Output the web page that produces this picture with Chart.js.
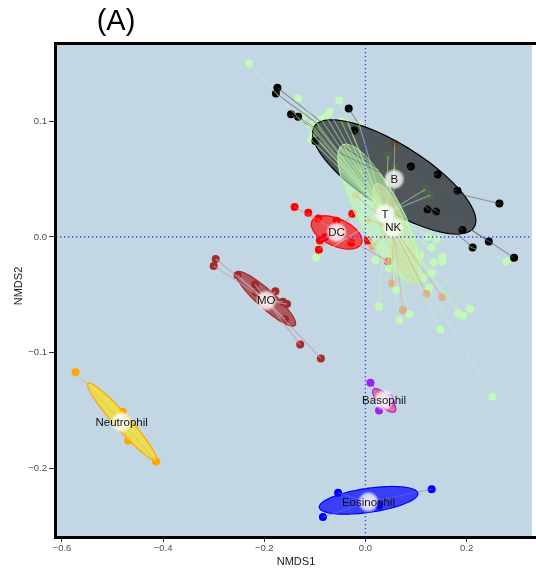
<!DOCTYPE html>
<html>
<head>
<meta charset="utf-8">
<script src="https://cdn.jsdelivr.net/npm/chart.js@4.4.1/dist/chart.umd.min.js"></script>
<style>
  html, body { margin: 0; padding: 0; background: #fff; }
  canvas { display: block; }
</style>
</head>
<body>
<canvas id="nmds" width="536" height="571"></canvas>
<script>
// groups, in the order they are drawn (alphabetical, like the R factor levels)
const groupNames = ['B', 'Basophil', 'DC', 'Eosinophil', 'MO', 'Neutrophil', 'NK', 'T'];

// NMDS1 / NMDS2 scores, one list of [x, y] per group
const ptsB = [[-0.174, 0.129], [-0.177, 0.124], [-0.147, 0.106], [-0.133, 0.104], [-0.033, 0.111],
  [-0.099, 0.083], [-0.022, 0.092], [0.090, 0.061], [0.143, 0.054], [0.182, 0.040], [0.265, 0.029],
  [0.123, 0.024], [0.140, 0.022], [0.192, 0.006], [0.244, -0.004], [0.212, -0.009], [0.294, -0.018]];
const ptsBasophil = [[0.010, -0.126], [0.027, -0.150], [0.051, -0.144], [0.047, -0.139]];
const ptsDC = [[-0.140, 0.026], [-0.113, 0.021], [-0.093, 0.016], [-0.057, 0.014], [-0.026, 0.020],
  [0.005, -0.003], [-0.090, -0.003], [-0.079, 0.000], [-0.092, -0.011], [-0.028, -0.005], [0.045, -0.021]];
const ptsEosinophil = [[-0.054, -0.221], [-0.084, -0.242], [0.027, -0.232], [0.131, -0.218]];
const ptsMO = [[-0.296, -0.019], [-0.300, -0.025], [-0.253, -0.033], [-0.218, -0.041], [-0.216, -0.048],
  [-0.178, -0.047], [-0.163, -0.056], [-0.155, -0.058], [-0.159, -0.071], [-0.129, -0.093], [-0.088, -0.105]];
const ptsNeutrophil = [[-0.573, -0.117], [-0.480, -0.151], [-0.469, -0.176], [-0.414, -0.194]];
const ptsNK = [[0.058, 0.081], [-0.019, 0.036], [0.005, 0.015], [0.014, -0.008], [0.053, -0.040],
  [0.120, -0.049], [0.152, -0.052], [0.074, -0.063]];
const ptsT = [[-0.230, 0.150], [-0.133, 0.120], [-0.052, 0.118], [-0.071, 0.108], [-0.078, 0.104],
  [-0.088, 0.102], [-0.124, 0.103], [-0.048, 0.100], [-0.035, 0.098], [-0.012, 0.097], [-0.107, 0.097],
  [-0.104, 0.088], [-0.107, 0.084], [-0.094, 0.095], [0.045, 0.070], [0.058, 0.061], [-0.012, 0.059],
  [0.118, 0.041], [0.128, 0.036], [-0.098, -0.018], [0.020, -0.020], [0.047, -0.027], [0.027, -0.060],
  [0.061, -0.046], [0.067, -0.072], [0.087, -0.067], [0.148, -0.080], [0.183, -0.066], [0.193, -0.068],
  [0.207, -0.062], [0.279, -0.021], [0.251, -0.138], [0.126, -0.044], [0.115, -0.035], [0.131, -0.031],
  [0.135, -0.022], [0.152, -0.021], [0.152, -0.017], [0.131, -0.009], [0.141, -0.002], [0.123, 0.000],
  [0.108, -0.016]];
const groupPoints = [ptsB, ptsBasophil, ptsDC, ptsEosinophil, ptsMO, ptsNeutrophil, ptsNK, ptsT];

// group centres (spider hubs / label spots)
const centerX = [0.057, 0.037, -0.057, 0.006, -0.196, -0.482, 0.055, 0.039];
const centerY = [0.050, -0.141, 0.004, -0.229, -0.055, -0.160, 0.008, 0.020];

// ordiellipse: centre x, centre y, then two conjugate semi-axes (dx, dy), NMDS units
const ellB = [0.0569, 0.0519, 0.1580, -0.0435, 0.0333, 0.0234];
const ellBasophil = [0.0373, -0.1413, 0.0215, -0.0095, 0.0082, 0.0037];
const ellDC = [-0.0569, 0.0039, 0.0490, -0.0095, 0.0106, 0.0108];
const ellEosinophil = [0.0063, -0.2276, 0.0975, 0.0061, 0.0033, -0.0103];
const ellMO = [-0.1971, -0.0534, 0.0580, -0.0229, 0.0115, 0.0058];
const ellNeutrophil = [-0.4814, -0.1596, 0.0671, -0.0331, 0.0110, 0.0044];
const ellNK = [0.0600, 0.0030, 0.0380, -0.0430, 0.0230, 0.0040];
const ellT = [0.0284, 0.0199, 0.0735, -0.0596, 0.0380, 0.0092];
const groupEllipses = [ellB, ellBasophil, ellDC, ellEosinophil, ellMO, ellNeutrophil, ellNK, ellT];

const xTicks = [-0.6, -0.4, -0.2, 0.0, 0.2];
const yTicks = [0.1, 0.0, -0.1, -0.2];
const xMin = -0.6118, xMax = 0.3294;
const yMin = -0.2593, yMax = 0.1668;

// styles
const pointColors = ['#000000', '#a020f0', '#ff0000', '#0000ff', '#a52a2a', '#ffa500', '#dfaf87', '#c3fab9'];
const ellFill = ['rgba(0,0,0,0.6)', 'rgba(240,70,110,0.7)', 'rgba(255,0,0,0.65)', 'rgba(0,0,255,0.7)',
  'rgba(160,35,40,0.7)', 'rgba(245,225,30,0.75)', 'rgba(222,170,125,0.65)', 'rgba(195,255,180,0.6)'];
const ellLine = ['#000000', '#a020f0', '#ff0000', '#0000ff', '#a52a2a', '#ffa500',
  'rgba(222,175,135,0.8)', 'rgba(175,240,165,0.95)'];
const spiderColor = ['rgba(90,90,90,0.55)', 'rgba(160,32,240,0.4)', 'rgba(255,100,110,0.5)',
  'rgba(90,120,255,0.5)', 'rgba(190,160,170,0.8)', 'rgba(230,190,120,0.7)',
  'rgba(222,175,135,0.6)', 'rgba(195,250,185,0.5)'];
const FONT = '"Liberation Sans", Arial, Helvetica, sans-serif';

function fmt(v) {
  return (v < 0 ? '\u2212' : '') + Math.abs(v).toFixed(1);
}

const overlay = {
  id: 'overlay',
  beforeDraw(chart) {
    const { ctx, chartArea: a } = chart;
    ctx.save();
    ctx.fillStyle = '#c2d6e3';
    ctx.fillRect(a.left, a.top, a.right - a.left, a.bottom - a.top);
    ctx.restore();
  },
  afterDatasetsDraw(chart) {
    const { ctx, chartArea: a } = chart;
    const sx = chart.scales.x, sy = chart.scales.y;
    ctx.save();
    ctx.beginPath();
    ctx.rect(a.left, a.top, a.right - a.left, a.bottom - a.top);
    ctx.clip();

    // ellipses
    groupEllipses.forEach((e, i) => {
      const cx = sx.getPixelForValue(e[0]), cy = sy.getPixelForValue(e[1]);
      const ux = sx.getPixelForValue(e[0] + e[2]) - cx, uy = sy.getPixelForValue(e[1] + e[3]) - cy;
      const vx = sx.getPixelForValue(e[0] + e[4]) - cx, vy = sy.getPixelForValue(e[1] + e[5]) - cy;
      ctx.beginPath();
      for (let k = 0; k <= 90; k++) {
        const t = k / 90 * Math.PI * 2;
        const X = cx + ux * Math.cos(t) + vx * Math.sin(t);
        const Y = cy + uy * Math.cos(t) + vy * Math.sin(t);
        if (k === 0) ctx.moveTo(X, Y); else ctx.lineTo(X, Y);
      }
      ctx.closePath();
      ctx.fillStyle = ellFill[i];
      ctx.fill();
      ctx.lineWidth = 1.2;
      ctx.strokeStyle = ellLine[i];
      ctx.stroke();
    });

    // spiders
    groupPoints.forEach((pts, i) => {
      const cx = sx.getPixelForValue(centerX[i]), cy = sy.getPixelForValue(centerY[i]);
      ctx.strokeStyle = spiderColor[i];
      ctx.lineWidth = 1.1;
      pts.forEach(p => {
        ctx.beginPath();
        ctx.moveTo(cx, cy);
        ctx.lineTo(sx.getPixelForValue(p[0]), sy.getPixelForValue(p[1]));
        ctx.stroke();
      });
    });

    // dotted zero lines
    const x0 = sx.getPixelForValue(0), y0 = sy.getPixelForValue(0);
    ctx.strokeStyle = '#3c3cff';
    ctx.lineWidth = 1.3;
    ctx.setLineDash([1.3, 2.7]);
    ctx.beginPath();
    ctx.moveTo(x0, a.top); ctx.lineTo(x0, a.bottom);
    ctx.moveTo(a.left, y0); ctx.lineTo(a.right, y0);
    ctx.stroke();
    ctx.setLineDash([]);

    // group labels
    groupNames.forEach((name, i) => {
      const cx = sx.getPixelForValue(centerX[i]), cy = sy.getPixelForValue(centerY[i]);
      const g = ctx.createRadialGradient(cx, cy, 0, cx, cy, 11);
      g.addColorStop(0, 'rgba(255,255,255,0.95)');
      g.addColorStop(0.7, 'rgba(255,255,255,0.75)');
      g.addColorStop(1, 'rgba(255,255,255,0)');
      ctx.fillStyle = g;
      ctx.beginPath();
      ctx.arc(cx, cy, 11, 0, Math.PI * 2);
      ctx.fill();
    });
    ctx.fillStyle = '#111';
    ctx.font = '11.5px ' + FONT;
    ctx.textAlign = 'center';
    ctx.textBaseline = 'middle';
    groupNames.forEach((name, i) => {
      ctx.fillText(name, sx.getPixelForValue(centerX[i]), sy.getPixelForValue(centerY[i]) + 0.5);
    });
    ctx.restore();

    // panel frame (right side runs off the image)
    ctx.save();
    ctx.strokeStyle = '#000';
    ctx.lineWidth = 3;
    ctx.beginPath();
    ctx.moveTo(a.right + 5, a.top - 0.5);
    ctx.lineTo(a.left - 0.5, a.top - 0.5);
    ctx.lineTo(a.left - 0.5, a.bottom + 0.5);
    ctx.lineTo(a.right + 5, a.bottom + 0.5);
    ctx.stroke();

    // titles
    ctx.fillStyle = '#000';
    ctx.font = '29px ' + FONT;
    ctx.textAlign = 'center';
    ctx.textBaseline = 'alphabetic';
    ctx.fillText('(A)', 116, 30);
    ctx.fillStyle = '#1a1a1a';
    ctx.font = '11px ' + FONT;
    ctx.textBaseline = 'middle';
    ctx.fillText('NMDS1', 296, 562);
    ctx.translate(19, 286);
    ctx.rotate(-Math.PI / 2);
    ctx.fillText('NMDS2', 0, 0);
    ctx.restore();
  }
};

const datasets = groupNames.map((name, i) => ({
  label: name,
  data: groupPoints[i].map(p => ({ x: p[0], y: p[1] })),
  pointRadius: 4,
  pointHoverRadius: 4,
  pointBorderWidth: 0,
  backgroundColor: pointColors[i],
  borderColor: pointColors[i]
}));

new Chart(document.getElementById('nmds').getContext('2d'), {
  type: 'scatter',
  data: { datasets: datasets },
  options: {
    responsive: false,
    animation: false,
    devicePixelRatio: 1,
    layout: { padding: { top: 44, left: 0, right: 0, bottom: 0 } },
    plugins: { legend: { display: false }, tooltip: { enabled: false } },
    scales: {
      x: {
        type: 'linear', min: xMin, max: xMax,
        afterBuildTicks: s => { s.ticks = xTicks.map(v => ({ value: v })); },
        afterFit: s => { s.height = 34; },
        grid: { drawOnChartArea: false, tickLength: 5, color: '#333' },
        border: { display: false },
        ticks: { padding: 1, color: '#4d4d4d', font: { family: FONT, size: 9.5 }, maxRotation: 0, autoSkip: false, callback: v => fmt(v) }
      },
      y: {
        type: 'linear', min: yMin, max: yMax,
        afterBuildTicks: s => { s.ticks = yTicks.map(v => ({ value: v })); },
        afterFit: s => { s.width = 56; },
        grid: { drawOnChartArea: false, tickLength: 7, color: '#333' },
        border: { display: false },
        ticks: { padding: 2, color: '#4d4d4d', font: { family: FONT, size: 9.5 }, autoSkip: false, callback: v => fmt(v) }
      }
    }
  },
  plugins: [overlay]
});
</script>
</body>
</html>
